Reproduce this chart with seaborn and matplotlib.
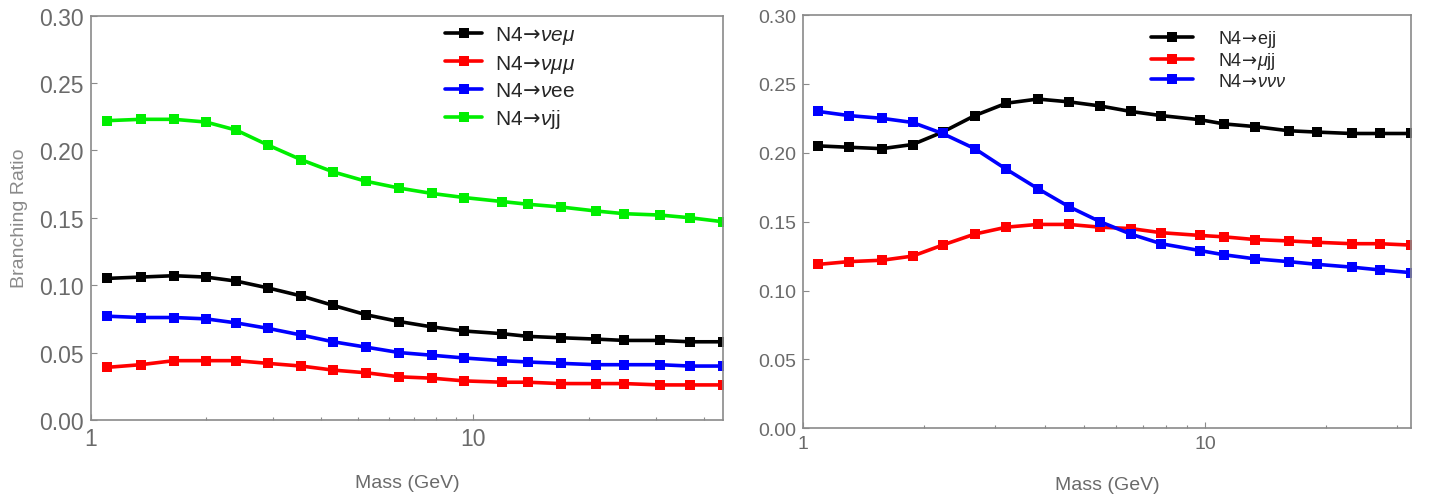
import numpy as np
import pandas as pd
import seaborn as sns
import matplotlib.pyplot as plt
from matplotlib.ticker import FixedLocator, FixedFormatter, NullFormatter

sns.set_theme(style="white")
plt.rcParams['font.family'] = ['Liberation Sans', 'DejaVu Sans']
plt.rcParams['mathtext.fontset'] = 'custom'
plt.rcParams['mathtext.rm'] = 'DejaVu Sans'
plt.rcParams['mathtext.it'] = 'Liberation Sans:italic'

ARROW = "\\!\\rightarrow\\!"

# ---- left panel: three-body leptonic channels and nu j j ----
mass_left = [1.10, 1.35, 1.65, 2.0, 2.4, 2.9, 3.55, 4.3, 5.25, 6.4,
             7.8, 9.45, 11.9, 13.9, 16.9, 20.9, 24.8, 30.7, 36.8, 45.0]
br_nu_e_mu = [0.105, 0.106, 0.107, 0.106, 0.103, 0.098, 0.092, 0.085, 0.078, 0.073,
              0.069, 0.066, 0.064, 0.062, 0.061, 0.060, 0.059, 0.059, 0.058, 0.058]
br_nu_mu_mu = [0.039, 0.041, 0.044, 0.044, 0.044, 0.042, 0.040, 0.037, 0.035, 0.032,
               0.031, 0.029, 0.028, 0.028, 0.027, 0.027, 0.027, 0.026, 0.026, 0.026]
br_nu_e_e = [0.077, 0.076, 0.076, 0.075, 0.072, 0.068, 0.063, 0.058, 0.054, 0.050,
             0.048, 0.046, 0.044, 0.043, 0.042, 0.041, 0.041, 0.041, 0.040, 0.040]
br_nu_j_j = [0.222, 0.223, 0.223, 0.221, 0.215, 0.204, 0.193, 0.184, 0.177, 0.172,
             0.168, 0.165, 0.162, 0.160, 0.158, 0.155, 0.153, 0.152, 0.150, 0.147]
labels_left = [f"N4${ARROW}\\mathit{{νeμ}}$", f"N4${ARROW}\\mathit{{νμμ}}$",
               f"N4${ARROW}\\mathit{{ν}}$ee", f"N4${ARROW}\\mathit{{ν}}$jj"]

# ---- right panel: charged-lepton + jets and invisible channels ----
mass_right = [1.09, 1.30, 1.57, 1.87, 2.22, 2.67, 3.20, 3.83, 4.57, 5.47,
              6.52, 7.76, 9.70, 11.1, 13.3, 16.1, 19.0, 23.1, 27.1, 32.4]
br_e_j_j = [0.205, 0.204, 0.203, 0.206, 0.215, 0.227, 0.236, 0.239, 0.237, 0.234,
            0.230, 0.227, 0.224, 0.221, 0.219, 0.216, 0.215, 0.214, 0.214, 0.214]
br_mu_j_j = [0.119, 0.121, 0.122, 0.125, 0.133, 0.141, 0.146, 0.148, 0.148, 0.146,
             0.145, 0.142, 0.140, 0.139, 0.137, 0.136, 0.135, 0.134, 0.134, 0.133]
br_nu_nu_nu = [0.230, 0.227, 0.225, 0.222, 0.214, 0.203, 0.188, 0.174, 0.161, 0.150,
               0.141, 0.134, 0.129, 0.126, 0.123, 0.121, 0.119, 0.117, 0.115, 0.113]
labels_right = [f"N4${ARROW}$ejj", f"N4${ARROW}\\mathit{{μ}}$jj",
                f"N4${ARROW}\\mathit{{ννν}}$"]

y_ticks = [0.00, 0.05, 0.10, 0.15, 0.20, 0.25, 0.30]

TICK_GRAY = "#6a6a6a"
FRAME_GRAY = "#8a8a8a"

fig = plt.figure(figsize=(14.29, 5.02), dpi=100)
ax_l = fig.add_axes([0.0635, 0.1614, 0.4427, 0.8057])
ax_r = fig.add_axes([0.5621, 0.1448, 0.4251, 0.8233])


def draw_panel(ax, mass, series, labels, colors, tick_size):
    frames = []
    for vals, lab in zip(series, labels):
        frames.append(pd.DataFrame({"mass": mass, "br": vals, "channel": lab}))
    df = pd.concat(frames, ignore_index=True)
    sns.lineplot(data=df, x="mass", y="br", hue="channel",
                 palette=dict(zip(labels, colors)), marker="s",
                 markersize=7, markeredgewidth=0, linewidth=2.6,
                 ax=ax, legend=True)
    ax.set_xscale("log")
    ax.set_xlim(1, mass[-1])
    ax.set_ylim(0, 0.30)
    ax.xaxis.set_major_locator(FixedLocator([1, 10]))
    ax.xaxis.set_major_formatter(FixedFormatter(["1", "10"]))
    minors = [m for m in [2, 3, 4, 5, 6, 7, 8, 9, 20, 30, 40] if m < mass[-1]]
    ax.xaxis.set_minor_locator(FixedLocator(minors))
    ax.xaxis.set_minor_formatter(NullFormatter())
    ax.yaxis.set_major_locator(FixedLocator(y_ticks))
    ax.yaxis.set_major_formatter(FixedFormatter([f"{v:.2f}" for v in y_ticks]))
    ax.tick_params(which="both", direction="in", bottom=True, left=True,
                   color=FRAME_GRAY, labelcolor=TICK_GRAY, labelsize=tick_size)
    ax.tick_params(which="major", length=4, width=0.8, pad=5)
    ax.tick_params(which="minor", length=2.5, width=0.8)
    for sp in ax.spines.values():
        sp.set_color(FRAME_GRAY)
        sp.set_linewidth(1.2)
    ax.set_xlabel("Mass (GeV)", color=TICK_GRAY, fontsize=14, labelpad=17)
    ax.set_ylabel("")


draw_panel(ax_l, mass_left, [br_nu_e_mu, br_nu_mu_mu, br_nu_e_e, br_nu_j_j],
           labels_left, ["#000000", "#ff0000", "#0000ff", "#00ee00"], 16.5)
draw_panel(ax_r, mass_right, [br_e_j_j, br_mu_j_j, br_nu_nu_nu],
           labels_right, ["#000000", "#ff0000", "#0000ff"], 14)

ax_l.set_ylabel("Branching Ratio", color="#8a8a8a", fontsize=14, labelpad=8)

ax_l.legend(loc="upper left", bbox_to_anchor=(0.54, 1.01), frameon=False,
            fontsize=15, handlelength=1.8, handletextpad=0.6, labelspacing=0.32,
            borderaxespad=0.2)
ax_r.legend(loc="upper left", bbox_to_anchor=(0.555, 0.995), frameon=False,
            fontsize=13, handlelength=2.3, handletextpad=1.4, labelspacing=0.08,
            borderaxespad=0.2)

fig.savefig("out.png", dpi=100, facecolor="white")
